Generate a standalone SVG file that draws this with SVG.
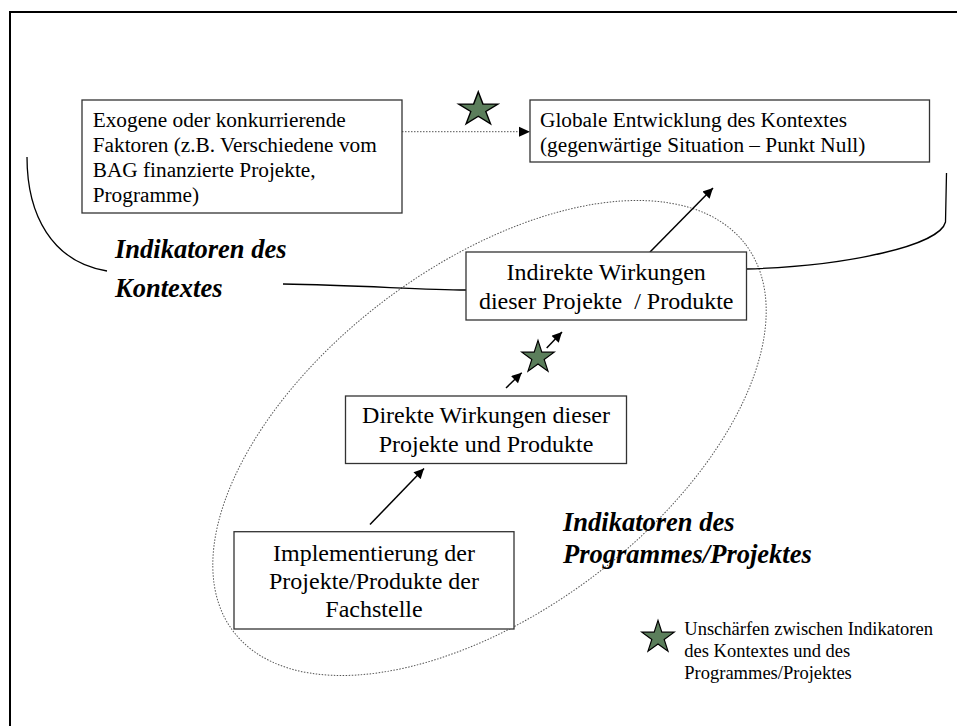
<svg xmlns="http://www.w3.org/2000/svg" xmlns:xlink="http://www.w3.org/1999/xlink" width="957" height="726" viewBox="0 0 957 726">
  <style>
    .box { fill: #ffffff; stroke: #333333; stroke-width: 1.3; }
    .t { font-family: "Liberation Serif", "Times New Roman", serif; fill: #000000; }
    .t21 { font-size: 21.3px; }
    .t24 { font-size: 24px; text-anchor: middle; }
    .lbl { font-family: "Liberation Serif", "Times New Roman", serif; font-size: 26.5px; font-weight: bold; font-style: italic; fill: #000000; }
    .leg { font-size: 18.5px; }
    .wire { fill: none; stroke: #000000; stroke-width: 1.3; }
    .arrow { fill: none; stroke: #000000; stroke-width: 1.5; marker-end: url(#head); }
    .dots { fill: none; stroke: #555555; stroke-width: 1; stroke-dasharray: 1.5 1.5; }
    .star { fill: #5b7e5b; stroke: #000000; stroke-width: 1.2; stroke-linejoin: miter; }
  </style>
  <defs>
    <marker id="head" viewBox="0 0 10 10" refX="10" refY="5" markerWidth="12" markerHeight="10" markerUnits="userSpaceOnUse" orient="auto">
      <path d="M0,0 L10,5 L0,10 Z" fill="#000000"/>
    </marker>
    <path id="star" class="star" d="M0,-17 L3.82,-5.25 L16.17,-5.25 L6.17,2 L10,13.75 L0,6.49 L-10,13.75 L-6.17,2 L-16.17,-5.25 L-3.82,-5.25 Z"/>
  </defs>

  <rect width="957" height="726" fill="#ffffff"/>
  <!-- page frame -->
  <path d="M10,726 V12 H957" fill="none" stroke="#000000" stroke-width="2"/>

  <!-- programme scope -->
  <ellipse cx="489.5" cy="438" rx="321" ry="173" transform="rotate(-37 489.5 438)" class="dots"/>

  <g id="connectors">
    <path class="wire" d="M27,157 C27,215 52,262 107,271"/>
    <path class="wire" d="M283,284 C360,285 420,290 466,290"/>
    <path class="wire" d="M746,269 C850,266 940,245 945.5,222 L946.5,173"/>
    <path class="dots" d="M402,131.7 H520"/>
    <path d="M519,126.7 L530,131.7 L519,136.7 Z" fill="#000000"/>
    <path class="arrow" d="M650,252 L713,188"/>
    <path class="arrow" d="M370,524.5 L424,468.5"/>
    <path class="arrow" d="M506,388 L521.7,372.7"/>
    <path class="arrow" d="M546.7,348 L562,332"/>
  </g>

  <g id="exogene">
    <rect class="box" x="82" y="100" width="320" height="113"/>
    <text class="t t21" x="92.7" y="126.5">Exogene oder konkurrierende</text>
    <text class="t t21" x="92.7" y="151.5">Faktoren (z.B. Verschiedene vom</text>
    <text class="t t21" x="92.7" y="176.5">BAG finanzierte Projekte,</text>
    <text class="t t21" x="92.7" y="201.5">Programme)</text>
  </g>

  <g id="global">
    <rect class="box" x="530" y="100" width="399.5" height="62"/>
    <text class="t t21" x="540" y="126.5">Globale Entwicklung des Kontextes</text>
    <text class="t t21" x="540" y="151.5">(gegenwärtige Situation – Punkt Null)</text>
  </g>

  <g id="indirekt">
    <rect class="box" x="466" y="252" width="280.5" height="68"/>
    <text class="t t24" x="606.2" y="280">Indirekte Wirkungen</text>
    <text class="t t24" x="606.2" y="309" xml:space="preserve">dieser Projekte  / Produkte</text>
  </g>

  <g id="direkt">
    <rect class="box" x="345.5" y="396" width="281" height="67.5"/>
    <text class="t t24" x="486" y="423.3">Direkte Wirkungen dieser</text>
    <text class="t t24" x="486" y="451.7">Projekte und Produkte</text>
  </g>

  <g id="implementierung">
    <rect class="box" x="234" y="531.7" width="280" height="97.3"/>
    <text class="t t24" x="374" y="560.5">Implementierung der</text>
    <text class="t t24" x="374" y="588.5">Projekte/Produkte der</text>
    <text class="t t24" x="374" y="616.5">Fachstelle</text>
  </g>

  <g id="label-kontext">
    <text class="lbl" x="115" y="258">Indikatoren des</text>
    <text class="lbl" x="115" y="296.5">Kontextes</text>
  </g>

  <g id="label-programm">
    <text class="lbl" x="563" y="531">Indikatoren des</text>
    <text class="lbl" x="563" y="562.5">Programmes/Projektes</text>
  </g>

  <g id="stars">
    <use xlink:href="#star" href="#star" transform="translate(478.3 109.5) scale(1.22 1.04)"/>
    <use xlink:href="#star" href="#star" transform="translate(538 357.4)"/>
  </g>

  <g id="legend">
    <use xlink:href="#star" href="#star" transform="translate(658 637.4)"/>
    <text class="t leg" x="684.3" y="635">Unschärfen zwischen Indikatoren</text>
    <text class="t leg" x="684.3" y="657">des Kontextes und des</text>
    <text class="t leg" x="684.3" y="679">Programmes/Projektes</text>
  </g>
</svg>
